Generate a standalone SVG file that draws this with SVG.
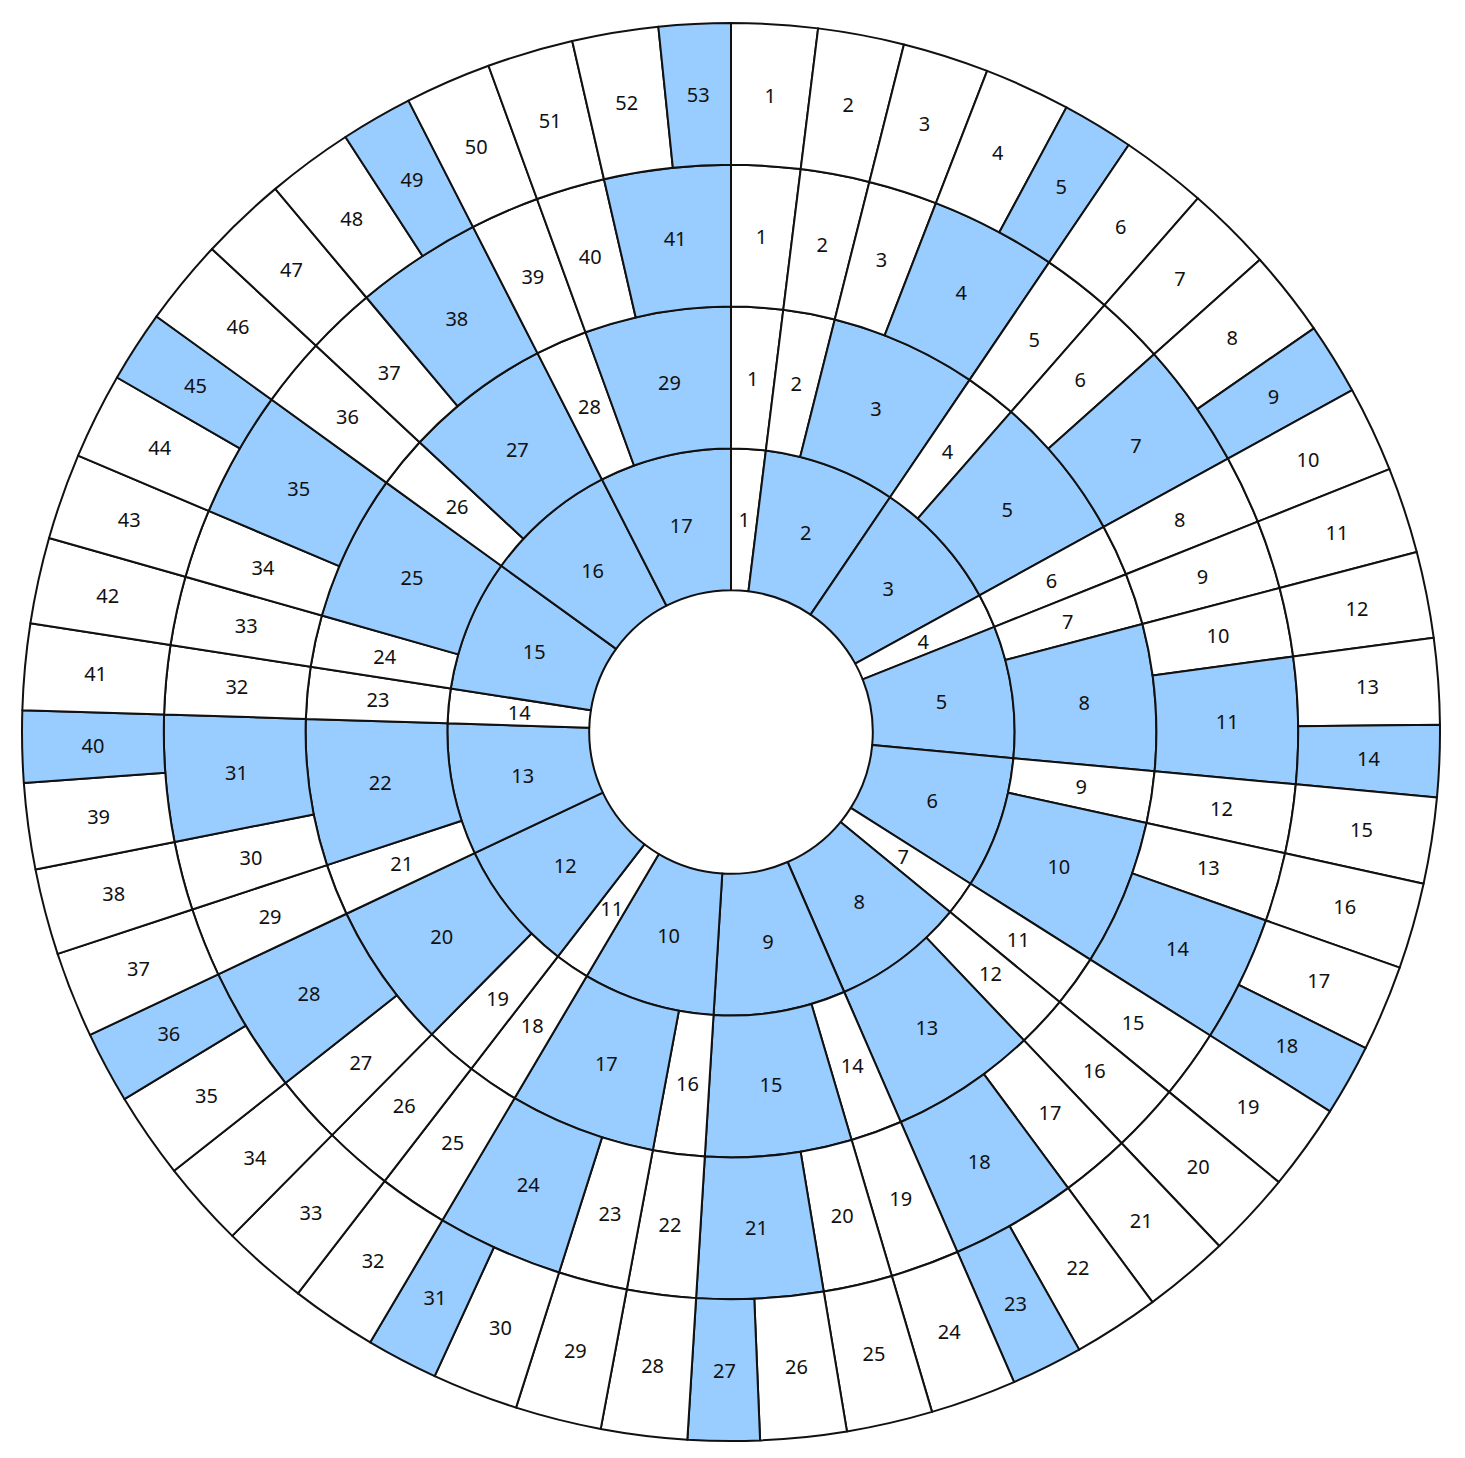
<svg xmlns="http://www.w3.org/2000/svg" xmlns:xlink="http://www.w3.org/1999/xlink" width="1465" height="1458" viewBox="0 0 1465 1458">
<style>
.s{fill:#ffffff;stroke:#111111;stroke-width:2;stroke-linejoin:round}
.b{fill:#99ccff}
text{font-family:"Noto Sans","Open Sans","DejaVu Sans",sans-serif;font-size:20px;fill:#111111;text-anchor:middle;dominant-baseline:central}
</style>
<defs>
<path id="w1" d="M0,-141.8L0,-283.6A283.6,283.6 0 0 1 34.851,-281.450L17.426,-140.725A141.8,141.8 0 0 0 0,-141.8Z"/>
<path id="b1" d="M0,-141.8L0,-283.6A283.6,283.6 0 0 1 129.011,-252.557L64.506,-126.279A141.8,141.8 0 0 0 0,-141.8Z"/>
<path id="w2" d="M0,-283.6L0,-425.4A425.4,425.4 0 0 1 52.277,-422.175L34.851,-281.450A283.6,283.6 0 0 0 0,-283.6Z"/>
<path id="b2" d="M0,-283.6L0,-425.4A425.4,425.4 0 0 1 145.495,-399.745L96.997,-266.497A283.6,283.6 0 0 0 0,-283.6Z"/>
<path id="w3" d="M0,-425.4L0,-567.2A567.2,567.2 0 0 1 69.703,-562.901L52.277,-422.175A425.4,425.4 0 0 0 0,-425.4Z"/>
<path id="b3" d="M0,-425.4L0,-567.2A567.2,567.2 0 0 1 127.025,-552.793L95.269,-414.595A425.4,425.4 0 0 0 0,-425.4Z"/>
<path id="w4" d="M0,-567.2L0,-709A709,709 0 0 1 87.128,-703.626L69.703,-562.901A567.2,567.2 0 0 0 0,-567.2Z"/>
<path id="b4" d="M0,-567.2L0,-709A709,709 0 0 1 72.663,-705.266L58.131,-564.213A567.2,567.2 0 0 0 0,-567.2Z"/>
</defs>
<rect width="1465" height="1458" fill="#ffffff"/>
<g id="connectors"></g>
<g transform="translate(731,732)">
<g id="ring1">
<g id="r1-1"><use href="#w1" class="s" transform="rotate(0)"/><text transform="rotate(3.5294) translate(0,-212.7) rotate(-3.5294)">1</text></g>
<g id="r1-2"><use href="#b1" class="s b" transform="rotate(7.0588)"/><text transform="rotate(20.5882) translate(0,-212.7) rotate(-20.5882)">2</text></g>
<g id="r1-3"><use href="#b1" class="s b" transform="rotate(34.1176)"/><text transform="rotate(47.6471) translate(0,-212.7) rotate(-47.6471)">3</text></g>
<g id="r1-4"><use href="#w1" class="s" transform="rotate(61.1765)"/><text transform="rotate(64.7059) translate(0,-212.7) rotate(-64.7059)">4</text></g>
<g id="r1-5"><use href="#b1" class="s b" transform="rotate(68.2353)"/><text transform="rotate(81.7647) translate(0,-212.7) rotate(-81.7647)">5</text></g>
<g id="r1-6"><use href="#b1" class="s b" transform="rotate(95.2941)"/><text transform="rotate(108.8235) translate(0,-212.7) rotate(-108.8235)">6</text></g>
<g id="r1-7"><use href="#w1" class="s" transform="rotate(122.3529)"/><text transform="rotate(125.8824) translate(0,-212.7) rotate(-125.8824)">7</text></g>
<g id="r1-8"><use href="#b1" class="s b" transform="rotate(129.4118)"/><text transform="rotate(142.9412) translate(0,-212.7) rotate(-142.9412)">8</text></g>
<g id="r1-9"><use href="#b1" class="s b" transform="rotate(156.4706)"/><text transform="rotate(170) translate(0,-212.7) rotate(-170)">9</text></g>
<g id="r1-10"><use href="#b1" class="s b" transform="rotate(183.5294)"/><text transform="rotate(197.0588) translate(0,-212.7) rotate(-197.0588)">10</text></g>
<g id="r1-11"><use href="#w1" class="s" transform="rotate(210.5882)"/><text transform="rotate(214.1176) translate(0,-212.7) rotate(-214.1176)">11</text></g>
<g id="r1-12"><use href="#b1" class="s b" transform="rotate(217.6471)"/><text transform="rotate(231.1765) translate(0,-212.7) rotate(-231.1765)">12</text></g>
<g id="r1-13"><use href="#b1" class="s b" transform="rotate(244.7059)"/><text transform="rotate(258.2353) translate(0,-212.7) rotate(-258.2353)">13</text></g>
<g id="r1-14"><use href="#w1" class="s" transform="rotate(271.7647)"/><text transform="rotate(275.2941) translate(0,-212.7) rotate(-275.2941)">14</text></g>
<g id="r1-15"><use href="#b1" class="s b" transform="rotate(278.8235)"/><text transform="rotate(292.3529) translate(0,-212.7) rotate(-292.3529)">15</text></g>
<g id="r1-16"><use href="#b1" class="s b" transform="rotate(305.8824)"/><text transform="rotate(319.4118) translate(0,-212.7) rotate(-319.4118)">16</text></g>
<g id="r1-17"><use href="#b1" class="s b" transform="rotate(332.9412)"/><text transform="rotate(346.4706) translate(0,-212.7) rotate(-346.4706)">17</text></g>
</g>
<g id="ring2">
<g id="r2-1"><use href="#w2" class="s" transform="rotate(0)"/><text transform="rotate(3.5294) translate(0,-354.5) rotate(-3.5294)">1</text></g>
<g id="r2-2"><use href="#w2" class="s" transform="rotate(7.0588)"/><text transform="rotate(10.5882) translate(0,-354.5) rotate(-10.5882)">2</text></g>
<g id="r2-3"><use href="#b2" class="s b" transform="rotate(14.1176)"/><text transform="rotate(24.1176) translate(0,-354.5) rotate(-24.1176)">3</text></g>
<g id="r2-4"><use href="#w2" class="s" transform="rotate(34.1176)"/><text transform="rotate(37.6471) translate(0,-354.5) rotate(-37.6471)">4</text></g>
<g id="r2-5"><use href="#b2" class="s b" transform="rotate(41.1765)"/><text transform="rotate(51.1765) translate(0,-354.5) rotate(-51.1765)">5</text></g>
<g id="r2-6"><use href="#w2" class="s" transform="rotate(61.1765)"/><text transform="rotate(64.7059) translate(0,-354.5) rotate(-64.7059)">6</text></g>
<g id="r2-7"><use href="#w2" class="s" transform="rotate(68.2353)"/><text transform="rotate(71.7647) translate(0,-354.5) rotate(-71.7647)">7</text></g>
<g id="r2-8"><use href="#b2" class="s b" transform="rotate(75.2941)"/><text transform="rotate(85.2941) translate(0,-354.5) rotate(-85.2941)">8</text></g>
<g id="r2-9"><use href="#w2" class="s" transform="rotate(95.2941)"/><text transform="rotate(98.8235) translate(0,-354.5) rotate(-98.8235)">9</text></g>
<g id="r2-10"><use href="#b2" class="s b" transform="rotate(102.3529)"/><text transform="rotate(112.3529) translate(0,-354.5) rotate(-112.3529)">10</text></g>
<g id="r2-11"><use href="#w2" class="s" transform="rotate(122.3529)"/><text transform="rotate(125.8824) translate(0,-354.5) rotate(-125.8824)">11</text></g>
<g id="r2-12"><use href="#w2" class="s" transform="rotate(129.4118)"/><text transform="rotate(132.9412) translate(0,-354.5) rotate(-132.9412)">12</text></g>
<g id="r2-13"><use href="#b2" class="s b" transform="rotate(136.4706)"/><text transform="rotate(146.4706) translate(0,-354.5) rotate(-146.4706)">13</text></g>
<g id="r2-14"><use href="#w2" class="s" transform="rotate(156.4706)"/><text transform="rotate(160) translate(0,-354.5) rotate(-160)">14</text></g>
<g id="r2-15"><use href="#b2" class="s b" transform="rotate(163.5294)"/><text transform="rotate(173.5294) translate(0,-354.5) rotate(-173.5294)">15</text></g>
<g id="r2-16"><use href="#w2" class="s" transform="rotate(183.5294)"/><text transform="rotate(187.0588) translate(0,-354.5) rotate(-187.0588)">16</text></g>
<g id="r2-17"><use href="#b2" class="s b" transform="rotate(190.5882)"/><text transform="rotate(200.5882) translate(0,-354.5) rotate(-200.5882)">17</text></g>
<g id="r2-18"><use href="#w2" class="s" transform="rotate(210.5882)"/><text transform="rotate(214.1176) translate(0,-354.5) rotate(-214.1176)">18</text></g>
<g id="r2-19"><use href="#w2" class="s" transform="rotate(217.6471)"/><text transform="rotate(221.1765) translate(0,-354.5) rotate(-221.1765)">19</text></g>
<g id="r2-20"><use href="#b2" class="s b" transform="rotate(224.7059)"/><text transform="rotate(234.7059) translate(0,-354.5) rotate(-234.7059)">20</text></g>
<g id="r2-21"><use href="#w2" class="s" transform="rotate(244.7059)"/><text transform="rotate(248.2353) translate(0,-354.5) rotate(-248.2353)">21</text></g>
<g id="r2-22"><use href="#b2" class="s b" transform="rotate(251.7647)"/><text transform="rotate(261.7647) translate(0,-354.5) rotate(-261.7647)">22</text></g>
<g id="r2-23"><use href="#w2" class="s" transform="rotate(271.7647)"/><text transform="rotate(275.2941) translate(0,-354.5) rotate(-275.2941)">23</text></g>
<g id="r2-24"><use href="#w2" class="s" transform="rotate(278.8235)"/><text transform="rotate(282.3529) translate(0,-354.5) rotate(-282.3529)">24</text></g>
<g id="r2-25"><use href="#b2" class="s b" transform="rotate(285.8824)"/><text transform="rotate(295.8824) translate(0,-354.5) rotate(-295.8824)">25</text></g>
<g id="r2-26"><use href="#w2" class="s" transform="rotate(305.8824)"/><text transform="rotate(309.4118) translate(0,-354.5) rotate(-309.4118)">26</text></g>
<g id="r2-27"><use href="#b2" class="s b" transform="rotate(312.9412)"/><text transform="rotate(322.9412) translate(0,-354.5) rotate(-322.9412)">27</text></g>
<g id="r2-28"><use href="#w2" class="s" transform="rotate(332.9412)"/><text transform="rotate(336.4706) translate(0,-354.5) rotate(-336.4706)">28</text></g>
<g id="r2-29"><use href="#b2" class="s b" transform="rotate(340)"/><text transform="rotate(350) translate(0,-354.5) rotate(-350)">29</text></g>
</g>
<g id="ring3">
<g id="r3-1"><use href="#w3" class="s" transform="rotate(0)"/><text transform="rotate(3.5294) translate(0,-496.3) rotate(-3.5294)">1</text></g>
<g id="r3-2"><use href="#w3" class="s" transform="rotate(7.0588)"/><text transform="rotate(10.5882) translate(0,-496.3) rotate(-10.5882)">2</text></g>
<g id="r3-3"><use href="#w3" class="s" transform="rotate(14.1176)"/><text transform="rotate(17.6471) translate(0,-496.3) rotate(-17.6471)">3</text></g>
<g id="r3-4"><use href="#b3" class="s b" transform="rotate(21.1765)"/><text transform="rotate(27.6471) translate(0,-496.3) rotate(-27.6471)">4</text></g>
<g id="r3-5"><use href="#w3" class="s" transform="rotate(34.1176)"/><text transform="rotate(37.6471) translate(0,-496.3) rotate(-37.6471)">5</text></g>
<g id="r3-6"><use href="#w3" class="s" transform="rotate(41.1765)"/><text transform="rotate(44.7059) translate(0,-496.3) rotate(-44.7059)">6</text></g>
<g id="r3-7"><use href="#b3" class="s b" transform="rotate(48.2353)"/><text transform="rotate(54.7059) translate(0,-496.3) rotate(-54.7059)">7</text></g>
<g id="r3-8"><use href="#w3" class="s" transform="rotate(61.1765)"/><text transform="rotate(64.7059) translate(0,-496.3) rotate(-64.7059)">8</text></g>
<g id="r3-9"><use href="#w3" class="s" transform="rotate(68.2353)"/><text transform="rotate(71.7647) translate(0,-496.3) rotate(-71.7647)">9</text></g>
<g id="r3-10"><use href="#w3" class="s" transform="rotate(75.2941)"/><text transform="rotate(78.8235) translate(0,-496.3) rotate(-78.8235)">10</text></g>
<g id="r3-11"><use href="#b3" class="s b" transform="rotate(82.3529)"/><text transform="rotate(88.8235) translate(0,-496.3) rotate(-88.8235)">11</text></g>
<g id="r3-12"><use href="#w3" class="s" transform="rotate(95.2941)"/><text transform="rotate(98.8235) translate(0,-496.3) rotate(-98.8235)">12</text></g>
<g id="r3-13"><use href="#w3" class="s" transform="rotate(102.3529)"/><text transform="rotate(105.8824) translate(0,-496.3) rotate(-105.8824)">13</text></g>
<g id="r3-14"><use href="#b3" class="s b" transform="rotate(109.4118)"/><text transform="rotate(115.8824) translate(0,-496.3) rotate(-115.8824)">14</text></g>
<g id="r3-15"><use href="#w3" class="s" transform="rotate(122.3529)"/><text transform="rotate(125.8824) translate(0,-496.3) rotate(-125.8824)">15</text></g>
<g id="r3-16"><use href="#w3" class="s" transform="rotate(129.4118)"/><text transform="rotate(132.9412) translate(0,-496.3) rotate(-132.9412)">16</text></g>
<g id="r3-17"><use href="#w3" class="s" transform="rotate(136.4706)"/><text transform="rotate(140) translate(0,-496.3) rotate(-140)">17</text></g>
<g id="r3-18"><use href="#b3" class="s b" transform="rotate(143.5294)"/><text transform="rotate(150) translate(0,-496.3) rotate(-150)">18</text></g>
<g id="r3-19"><use href="#w3" class="s" transform="rotate(156.4706)"/><text transform="rotate(160) translate(0,-496.3) rotate(-160)">19</text></g>
<g id="r3-20"><use href="#w3" class="s" transform="rotate(163.5294)"/><text transform="rotate(167.0588) translate(0,-496.3) rotate(-167.0588)">20</text></g>
<g id="r3-21"><use href="#b3" class="s b" transform="rotate(170.5882)"/><text transform="rotate(177.0588) translate(0,-496.3) rotate(-177.0588)">21</text></g>
<g id="r3-22"><use href="#w3" class="s" transform="rotate(183.5294)"/><text transform="rotate(187.0588) translate(0,-496.3) rotate(-187.0588)">22</text></g>
<g id="r3-23"><use href="#w3" class="s" transform="rotate(190.5882)"/><text transform="rotate(194.1176) translate(0,-496.3) rotate(-194.1176)">23</text></g>
<g id="r3-24"><use href="#b3" class="s b" transform="rotate(197.6471)"/><text transform="rotate(204.1176) translate(0,-496.3) rotate(-204.1176)">24</text></g>
<g id="r3-25"><use href="#w3" class="s" transform="rotate(210.5882)"/><text transform="rotate(214.1176) translate(0,-496.3) rotate(-214.1176)">25</text></g>
<g id="r3-26"><use href="#w3" class="s" transform="rotate(217.6471)"/><text transform="rotate(221.1765) translate(0,-496.3) rotate(-221.1765)">26</text></g>
<g id="r3-27"><use href="#w3" class="s" transform="rotate(224.7059)"/><text transform="rotate(228.2353) translate(0,-496.3) rotate(-228.2353)">27</text></g>
<g id="r3-28"><use href="#b3" class="s b" transform="rotate(231.7647)"/><text transform="rotate(238.2353) translate(0,-496.3) rotate(-238.2353)">28</text></g>
<g id="r3-29"><use href="#w3" class="s" transform="rotate(244.7059)"/><text transform="rotate(248.2353) translate(0,-496.3) rotate(-248.2353)">29</text></g>
<g id="r3-30"><use href="#w3" class="s" transform="rotate(251.7647)"/><text transform="rotate(255.2941) translate(0,-496.3) rotate(-255.2941)">30</text></g>
<g id="r3-31"><use href="#b3" class="s b" transform="rotate(258.8235)"/><text transform="rotate(265.2941) translate(0,-496.3) rotate(-265.2941)">31</text></g>
<g id="r3-32"><use href="#w3" class="s" transform="rotate(271.7647)"/><text transform="rotate(275.2941) translate(0,-496.3) rotate(-275.2941)">32</text></g>
<g id="r3-33"><use href="#w3" class="s" transform="rotate(278.8235)"/><text transform="rotate(282.3529) translate(0,-496.3) rotate(-282.3529)">33</text></g>
<g id="r3-34"><use href="#w3" class="s" transform="rotate(285.8824)"/><text transform="rotate(289.4118) translate(0,-496.3) rotate(-289.4118)">34</text></g>
<g id="r3-35"><use href="#b3" class="s b" transform="rotate(292.9412)"/><text transform="rotate(299.4118) translate(0,-496.3) rotate(-299.4118)">35</text></g>
<g id="r3-36"><use href="#w3" class="s" transform="rotate(305.8824)"/><text transform="rotate(309.4118) translate(0,-496.3) rotate(-309.4118)">36</text></g>
<g id="r3-37"><use href="#w3" class="s" transform="rotate(312.9412)"/><text transform="rotate(316.4706) translate(0,-496.3) rotate(-316.4706)">37</text></g>
<g id="r3-38"><use href="#b3" class="s b" transform="rotate(320)"/><text transform="rotate(326.4706) translate(0,-496.3) rotate(-326.4706)">38</text></g>
<g id="r3-39"><use href="#w3" class="s" transform="rotate(332.9412)"/><text transform="rotate(336.4706) translate(0,-496.3) rotate(-336.4706)">39</text></g>
<g id="r3-40"><use href="#w3" class="s" transform="rotate(340)"/><text transform="rotate(343.5294) translate(0,-496.3) rotate(-343.5294)">40</text></g>
<g id="r3-41"><use href="#b3" class="s b" transform="rotate(347.0588)"/><text transform="rotate(353.5294) translate(0,-496.3) rotate(-353.5294)">41</text></g>
</g>
<g id="ring4">
<g id="r4-1"><use href="#w4" class="s" transform="rotate(0)"/><text transform="rotate(3.5294) translate(0,-638.1) rotate(-3.5294)">1</text></g>
<g id="r4-2"><use href="#w4" class="s" transform="rotate(7.0588)"/><text transform="rotate(10.5882) translate(0,-638.1) rotate(-10.5882)">2</text></g>
<g id="r4-3"><use href="#w4" class="s" transform="rotate(14.1176)"/><text transform="rotate(17.6471) translate(0,-638.1) rotate(-17.6471)">3</text></g>
<g id="r4-4"><use href="#w4" class="s" transform="rotate(21.1765)"/><text transform="rotate(24.7059) translate(0,-638.1) rotate(-24.7059)">4</text></g>
<g id="r4-5"><use href="#b4" class="s b" transform="rotate(28.2353)"/><text transform="rotate(31.1765) translate(0,-638.1) rotate(-31.1765)">5</text></g>
<g id="r4-6"><use href="#w4" class="s" transform="rotate(34.1176)"/><text transform="rotate(37.6471) translate(0,-638.1) rotate(-37.6471)">6</text></g>
<g id="r4-7"><use href="#w4" class="s" transform="rotate(41.1765)"/><text transform="rotate(44.7059) translate(0,-638.1) rotate(-44.7059)">7</text></g>
<g id="r4-8"><use href="#w4" class="s" transform="rotate(48.2353)"/><text transform="rotate(51.7647) translate(0,-638.1) rotate(-51.7647)">8</text></g>
<g id="r4-9"><use href="#b4" class="s b" transform="rotate(55.2941)"/><text transform="rotate(58.2353) translate(0,-638.1) rotate(-58.2353)">9</text></g>
<g id="r4-10"><use href="#w4" class="s" transform="rotate(61.1765)"/><text transform="rotate(64.7059) translate(0,-638.1) rotate(-64.7059)">10</text></g>
<g id="r4-11"><use href="#w4" class="s" transform="rotate(68.2353)"/><text transform="rotate(71.7647) translate(0,-638.1) rotate(-71.7647)">11</text></g>
<g id="r4-12"><use href="#w4" class="s" transform="rotate(75.2941)"/><text transform="rotate(78.8235) translate(0,-638.1) rotate(-78.8235)">12</text></g>
<g id="r4-13"><use href="#w4" class="s" transform="rotate(82.3529)"/><text transform="rotate(85.8824) translate(0,-638.1) rotate(-85.8824)">13</text></g>
<g id="r4-14"><use href="#b4" class="s b" transform="rotate(89.4118)"/><text transform="rotate(92.3529) translate(0,-638.1) rotate(-92.3529)">14</text></g>
<g id="r4-15"><use href="#w4" class="s" transform="rotate(95.2941)"/><text transform="rotate(98.8235) translate(0,-638.1) rotate(-98.8235)">15</text></g>
<g id="r4-16"><use href="#w4" class="s" transform="rotate(102.3529)"/><text transform="rotate(105.8824) translate(0,-638.1) rotate(-105.8824)">16</text></g>
<g id="r4-17"><use href="#w4" class="s" transform="rotate(109.4118)"/><text transform="rotate(112.9412) translate(0,-638.1) rotate(-112.9412)">17</text></g>
<g id="r4-18"><use href="#b4" class="s b" transform="rotate(116.4706)"/><text transform="rotate(119.4118) translate(0,-638.1) rotate(-119.4118)">18</text></g>
<g id="r4-19"><use href="#w4" class="s" transform="rotate(122.3529)"/><text transform="rotate(125.8824) translate(0,-638.1) rotate(-125.8824)">19</text></g>
<g id="r4-20"><use href="#w4" class="s" transform="rotate(129.4118)"/><text transform="rotate(132.9412) translate(0,-638.1) rotate(-132.9412)">20</text></g>
<g id="r4-21"><use href="#w4" class="s" transform="rotate(136.4706)"/><text transform="rotate(140) translate(0,-638.1) rotate(-140)">21</text></g>
<g id="r4-22"><use href="#w4" class="s" transform="rotate(143.5294)"/><text transform="rotate(147.0588) translate(0,-638.1) rotate(-147.0588)">22</text></g>
<g id="r4-23"><use href="#b4" class="s b" transform="rotate(150.5882)"/><text transform="rotate(153.5294) translate(0,-638.1) rotate(-153.5294)">23</text></g>
<g id="r4-24"><use href="#w4" class="s" transform="rotate(156.4706)"/><text transform="rotate(160) translate(0,-638.1) rotate(-160)">24</text></g>
<g id="r4-25"><use href="#w4" class="s" transform="rotate(163.5294)"/><text transform="rotate(167.0588) translate(0,-638.1) rotate(-167.0588)">25</text></g>
<g id="r4-26"><use href="#w4" class="s" transform="rotate(170.5882)"/><text transform="rotate(174.1176) translate(0,-638.1) rotate(-174.1176)">26</text></g>
<g id="r4-27"><use href="#b4" class="s b" transform="rotate(177.6471)"/><text transform="rotate(180.5882) translate(0,-638.1) rotate(-180.5882)">27</text></g>
<g id="r4-28"><use href="#w4" class="s" transform="rotate(183.5294)"/><text transform="rotate(187.0588) translate(0,-638.1) rotate(-187.0588)">28</text></g>
<g id="r4-29"><use href="#w4" class="s" transform="rotate(190.5882)"/><text transform="rotate(194.1176) translate(0,-638.1) rotate(-194.1176)">29</text></g>
<g id="r4-30"><use href="#w4" class="s" transform="rotate(197.6471)"/><text transform="rotate(201.1765) translate(0,-638.1) rotate(-201.1765)">30</text></g>
<g id="r4-31"><use href="#b4" class="s b" transform="rotate(204.7059)"/><text transform="rotate(207.6471) translate(0,-638.1) rotate(-207.6471)">31</text></g>
<g id="r4-32"><use href="#w4" class="s" transform="rotate(210.5882)"/><text transform="rotate(214.1176) translate(0,-638.1) rotate(-214.1176)">32</text></g>
<g id="r4-33"><use href="#w4" class="s" transform="rotate(217.6471)"/><text transform="rotate(221.1765) translate(0,-638.1) rotate(-221.1765)">33</text></g>
<g id="r4-34"><use href="#w4" class="s" transform="rotate(224.7059)"/><text transform="rotate(228.2353) translate(0,-638.1) rotate(-228.2353)">34</text></g>
<g id="r4-35"><use href="#w4" class="s" transform="rotate(231.7647)"/><text transform="rotate(235.2941) translate(0,-638.1) rotate(-235.2941)">35</text></g>
<g id="r4-36"><use href="#b4" class="s b" transform="rotate(238.8235)"/><text transform="rotate(241.7647) translate(0,-638.1) rotate(-241.7647)">36</text></g>
<g id="r4-37"><use href="#w4" class="s" transform="rotate(244.7059)"/><text transform="rotate(248.2353) translate(0,-638.1) rotate(-248.2353)">37</text></g>
<g id="r4-38"><use href="#w4" class="s" transform="rotate(251.7647)"/><text transform="rotate(255.2941) translate(0,-638.1) rotate(-255.2941)">38</text></g>
<g id="r4-39"><use href="#w4" class="s" transform="rotate(258.8235)"/><text transform="rotate(262.3529) translate(0,-638.1) rotate(-262.3529)">39</text></g>
<g id="r4-40"><use href="#b4" class="s b" transform="rotate(265.8824)"/><text transform="rotate(268.8235) translate(0,-638.1) rotate(-268.8235)">40</text></g>
<g id="r4-41"><use href="#w4" class="s" transform="rotate(271.7647)"/><text transform="rotate(275.2941) translate(0,-638.1) rotate(-275.2941)">41</text></g>
<g id="r4-42"><use href="#w4" class="s" transform="rotate(278.8235)"/><text transform="rotate(282.3529) translate(0,-638.1) rotate(-282.3529)">42</text></g>
<g id="r4-43"><use href="#w4" class="s" transform="rotate(285.8824)"/><text transform="rotate(289.4118) translate(0,-638.1) rotate(-289.4118)">43</text></g>
<g id="r4-44"><use href="#w4" class="s" transform="rotate(292.9412)"/><text transform="rotate(296.4706) translate(0,-638.1) rotate(-296.4706)">44</text></g>
<g id="r4-45"><use href="#b4" class="s b" transform="rotate(300)"/><text transform="rotate(302.9412) translate(0,-638.1) rotate(-302.9412)">45</text></g>
<g id="r4-46"><use href="#w4" class="s" transform="rotate(305.8824)"/><text transform="rotate(309.4118) translate(0,-638.1) rotate(-309.4118)">46</text></g>
<g id="r4-47"><use href="#w4" class="s" transform="rotate(312.9412)"/><text transform="rotate(316.4706) translate(0,-638.1) rotate(-316.4706)">47</text></g>
<g id="r4-48"><use href="#w4" class="s" transform="rotate(320)"/><text transform="rotate(323.5294) translate(0,-638.1) rotate(-323.5294)">48</text></g>
<g id="r4-49"><use href="#b4" class="s b" transform="rotate(327.0588)"/><text transform="rotate(330) translate(0,-638.1) rotate(-330)">49</text></g>
<g id="r4-50"><use href="#w4" class="s" transform="rotate(332.9412)"/><text transform="rotate(336.4706) translate(0,-638.1) rotate(-336.4706)">50</text></g>
<g id="r4-51"><use href="#w4" class="s" transform="rotate(340)"/><text transform="rotate(343.5294) translate(0,-638.1) rotate(-343.5294)">51</text></g>
<g id="r4-52"><use href="#w4" class="s" transform="rotate(347.0588)"/><text transform="rotate(350.5882) translate(0,-638.1) rotate(-350.5882)">52</text></g>
<g id="r4-53"><use href="#b4" class="s b" transform="rotate(354.1176)"/><text transform="rotate(357.0588) translate(0,-638.1) rotate(-357.0588)">53</text></g>
</g>
</g>
</svg>
